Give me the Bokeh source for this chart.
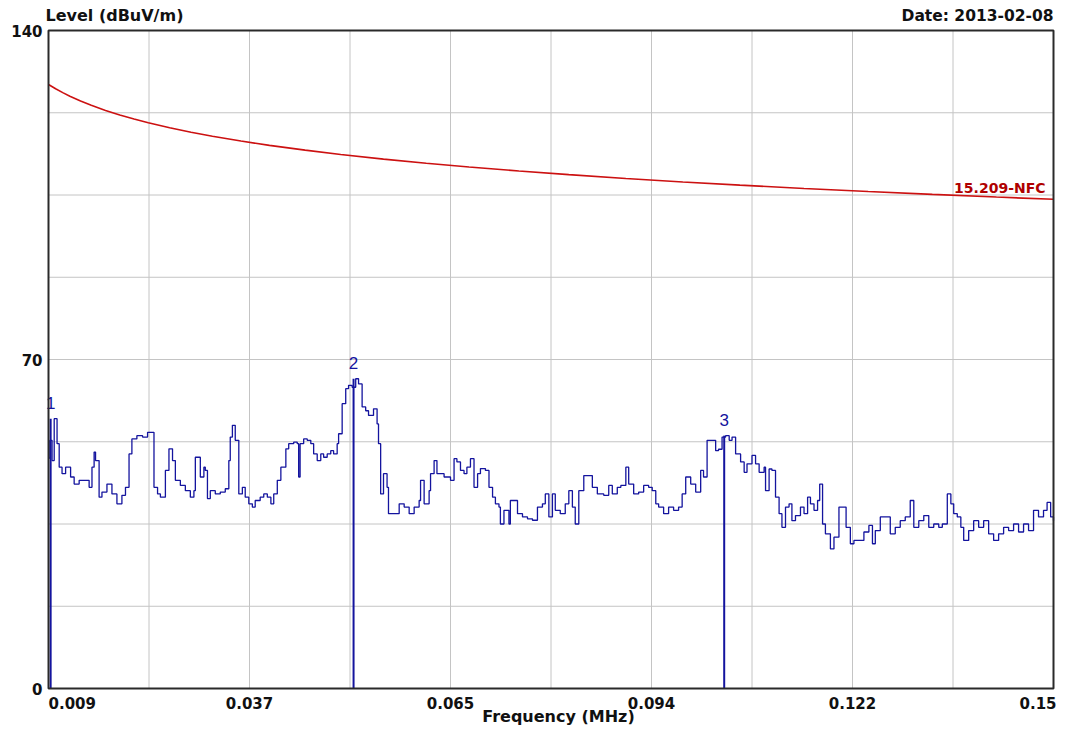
from bokeh.plotting import figure
from bokeh.models import Range1d, ColumnDataSource
from bokeh.core.properties import value
from bokeh.embed import file_html
from bokeh.resources import INLINE

# ---------------- data ----------------
limit_freq_mhz = [0.009, 0.010, 0.011, 0.012, 0.0135, 0.015, 0.017, 0.019, 0.021, 0.023,
                  0.026, 0.029, 0.032, 0.036, 0.040, 0.045, 0.050, 0.056, 0.062, 0.068,
                  0.075, 0.082, 0.090, 0.098, 0.106, 0.115, 0.124, 0.133, 0.142, 0.150]
limit_level = [128.52, 127.60, 126.78, 126.02, 125.00, 124.08, 122.99, 122.03, 121.16, 120.37,
               119.30, 118.36, 117.50, 116.48, 115.56, 114.54, 113.62, 112.64, 111.76, 110.95,
               110.10, 109.33, 108.52, 107.78, 107.10, 106.39, 105.74, 105.13, 104.56, 104.08]
limit_name = "15.209-NFC"

trace_freq_mhz = [
    0.0090, 0.0092, 0.0095, 0.0098, 0.0102, 0.0105, 0.0109, 0.0114, 0.0121, 0.0126,
    0.0133, 0.0140, 0.0147, 0.0151, 0.0154, 0.0156, 0.0161, 0.0165, 0.0172, 0.0179,
    0.0186, 0.0193, 0.0198, 0.0203, 0.0207, 0.0214, 0.0222, 0.0229, 0.0233, 0.0238,
    0.0243, 0.0247, 0.0254, 0.0259, 0.0264, 0.0268, 0.0275, 0.0282, 0.0289, 0.0294,
    0.0296, 0.0301, 0.0303, 0.0308, 0.0310, 0.0313, 0.0317, 0.0324, 0.0331, 0.0338,
    0.0343, 0.0345, 0.0348, 0.0352, 0.0357, 0.0362, 0.0366, 0.0371, 0.0376, 0.0380,
    0.0387, 0.0392, 0.0397, 0.0402, 0.0406, 0.0411, 0.0416, 0.0423, 0.0427, 0.0434,
    0.0439, 0.0441, 0.0443, 0.0448, 0.0453, 0.0458, 0.0462, 0.0467, 0.0472, 0.0476,
    0.0481, 0.0486, 0.0490, 0.0495, 0.0497, 0.0502, 0.0507, 0.0511, 0.0516, 0.0521,
    0.0525, 0.0530, 0.0535, 0.0539, 0.0546, 0.0551, 0.0553, 0.0556, 0.0560, 0.0565,
    0.0567, 0.0575, 0.0582, 0.0589, 0.0596, 0.0603, 0.0610, 0.0612, 0.0617, 0.0624,
    0.0626, 0.0631, 0.0635, 0.0645, 0.0654, 0.0659, 0.0663, 0.0668, 0.0673, 0.0677,
    0.0682, 0.0687, 0.0692, 0.0696, 0.0703, 0.0708, 0.0713, 0.0717, 0.0722, 0.0724,
    0.0729, 0.0736, 0.0738, 0.0743, 0.0748, 0.0755, 0.0762, 0.0769, 0.0776, 0.0783,
    0.0787, 0.0792, 0.0797, 0.0801, 0.0808, 0.0815, 0.0820, 0.0825, 0.0829, 0.0834,
    0.0841, 0.0848, 0.0853, 0.0860, 0.0869, 0.0876, 0.0881, 0.0888, 0.0893, 0.0900,
    0.0904, 0.0911, 0.0918, 0.0925, 0.0932, 0.0937, 0.0942, 0.0946, 0.0953, 0.0960,
    0.0967, 0.0974, 0.0979, 0.0984, 0.0991, 0.0998, 0.1005, 0.1009, 0.1014, 0.1021,
    0.1026, 0.1030, 0.1035, 0.1040, 0.1045, 0.1049, 0.1054, 0.1061, 0.1066, 0.1070,
    0.1077, 0.1082, 0.1087, 0.1094, 0.1096, 0.1101, 0.1105, 0.1110, 0.1115, 0.1119,
    0.1124, 0.1129, 0.1133, 0.1138, 0.1145, 0.1150, 0.1155, 0.1159, 0.1164, 0.1169,
    0.1172, 0.1176, 0.1180, 0.1187, 0.1192, 0.1199, 0.1205, 0.1209, 0.1215, 0.1220,
    0.1227, 0.1234, 0.1241, 0.1246, 0.1250, 0.1257, 0.1264, 0.1271, 0.1278, 0.1285,
    0.1292, 0.1299, 0.1304, 0.1311, 0.1318, 0.1325, 0.1332, 0.1339, 0.1344, 0.1351,
    0.1356, 0.1360, 0.1365, 0.1370, 0.1374, 0.1381, 0.1388, 0.1395, 0.1402, 0.1409,
    0.1416, 0.1423, 0.1430, 0.1437, 0.1444, 0.1451, 0.1458, 0.1465, 0.1472, 0.1479,
    0.1486, 0.1491, 0.1496, 0.1500]
trace_level = [
    49.0, 52.8, 48.5, 57.4, 52.1, 47.1, 45.7, 47.1, 45.0, 43.5,
    44.3, 44.3, 42.8, 47.1, 50.3, 48.5, 40.7, 41.8, 43.5, 41.4,
    39.3, 41.1, 42.8, 49.9, 53.1, 53.8, 53.5, 54.5, 54.5, 42.8,
    41.4, 40.7, 46.4, 51.0, 48.5, 44.3, 43.2, 42.1, 40.7, 42.1,
    49.2, 49.2, 45.0, 47.1, 46.4, 40.4, 42.1, 41.4, 41.8, 42.5,
    48.5, 53.5, 56.0, 52.8, 41.4, 42.8, 40.7, 39.3, 38.6, 40.0,
    40.7, 41.4, 40.7, 39.3, 41.4, 44.3, 47.1, 51.0, 52.1, 52.4,
    52.1, 45.0, 52.1, 53.1, 52.8, 52.1, 49.9, 48.5, 49.9, 49.2,
    49.9, 50.6, 49.9, 52.1, 54.2, 60.6, 63.8, 64.5, 64.1, 65.9,
    64.8, 59.9, 59.1, 58.1, 59.5, 56.3, 52.1, 41.4, 45.7, 42.8,
    37.2, 37.2, 39.3, 38.6, 37.2, 38.6, 40.0, 44.3, 39.3, 42.1,
    45.7, 48.5, 45.7, 45.0, 44.3, 48.9, 48.2, 46.4, 45.7, 47.1,
    48.9, 42.8, 45.7, 46.8, 46.4, 42.8, 40.7, 39.3, 38.6, 35.0,
    37.9, 35.0, 40.0, 40.0, 37.2, 36.5, 36.1, 35.8, 38.6, 39.3,
    41.4, 36.5, 41.4, 37.9, 37.2, 39.3, 42.1, 38.6, 35.0, 42.1,
    45.3, 45.3, 42.8, 41.4, 41.1, 43.2, 41.4, 42.8, 43.2, 47.1,
    43.5, 41.4, 41.8, 43.2, 42.8, 42.1, 39.3, 38.6, 37.2, 38.6,
    37.9, 38.6, 41.4, 45.0, 43.5, 41.8, 46.4, 45.0, 52.8, 52.8,
    50.6, 50.9, 53.5, 53.8, 52.8, 53.5, 49.9, 48.2, 46.0, 47.8,
    49.6, 47.8, 46.0, 47.1, 42.1, 46.7, 46.4, 40.7, 37.2, 34.3,
    38.6, 39.3, 35.7, 36.8, 38.6, 37.2, 40.7, 39.3, 37.9, 40.0,
    43.5, 35.0, 32.9, 29.7, 32.2, 38.6, 38.6, 34.3, 30.8, 31.5,
    31.5, 33.3, 34.7, 30.8, 33.6, 36.5, 36.5, 32.9, 34.3, 35.7,
    36.5, 40.0, 34.3, 35.7, 36.8, 34.3, 35.0, 34.3, 35.0, 41.4,
    39.3, 37.2, 36.5, 34.3, 31.5, 33.6, 35.7, 34.3, 35.7, 32.9,
    31.5, 32.9, 34.3, 33.6, 35.0, 33.3, 35.0, 33.6, 37.9, 36.5,
    37.9, 39.6, 36.5, 35.7]

marker_freq_mhz = [0.0093, 0.0518, 0.1038]
marker_level = [57.4, 65.9, 53.8]
marker_text = ["1", "2", "3"]

x_grid_ticks = [0.009, 0.0231, 0.0372, 0.0513, 0.0654, 0.0795, 0.0936, 0.1077, 0.1218, 0.1359, 0.15]
y_grid_ticks = [0, 17.5, 35, 52.5, 70, 87.5, 105, 122.5, 140]
x_tick_vals = [0.009, 0.0372, 0.0654, 0.0936, 0.1218, 0.15]
x_tick_text = ["0.009", "0.037", "0.065", "0.094", "0.122", "0.15"]
y_tick_vals = [140, 70, 0]
y_tick_text = ["140", "70", "0"]

y_title = "Level (dBuV/m)"
x_title = "Frequency (MHz)"
date_text = "Date: 2013-02-08"

# ---------------- layout constants ----------------
W, H = 1057, 728                 # canvas
BOX_L, BOX_R, BOX_T, BOX_B = 48, 1053, 30, 688   # chart box in canvas pixels
X0, X1 = 0.009, 0.15
Y0, Y1 = 0, 140
px_x = (X1 - X0) / (BOX_R - BOX_L)
px_y = (Y1 - Y0) / (BOX_B - BOX_T)

p = figure(frame_width=W, frame_height=H,
           min_border_left=0, min_border_right=0, min_border_top=0, min_border_bottom=0,
           x_range=Range1d(X0 - BOX_L * px_x, X1 + (W - BOX_R) * px_x),
           y_range=Range1d(Y0 - (H - BOX_B) * px_y, Y1 + BOX_T * px_y),
           x_axis_location=None, y_axis_location=None,
           toolbar_location=None, output_backend="svg")
p.grid.visible = False
p.background_fill_color = "white"
p.border_fill_color = "white"
p.outline_line_color = None

GRID = "#c4c4c4"
RED = "#cc1111"
BLUE = "#14149e"
INK = "#111111"
BOLD_FONT = value("DejaVu Sans")

# grid lines (inside the chart box)
p.segment(x0=x_grid_ticks, y0=[Y0] * len(x_grid_ticks), x1=x_grid_ticks, y1=[Y1] * len(x_grid_ticks),
          line_color=GRID, line_width=1)
p.segment(x0=[X0] * len(y_grid_ticks), y0=y_grid_ticks, x1=[X1] * len(y_grid_ticks), y1=y_grid_ticks,
          line_color=GRID, line_width=1)

# limit line
p.line(limit_freq_mhz, limit_level, line_color=RED, line_width=1.6)
p.text(x=[X1], y=[limit_level[-1]], text=[limit_name], x_offset=-8, y_offset=-11,
       text_align="right", text_baseline="alphabetic", text_font=BOLD_FONT,
       text_font_style="bold", text_font_size="14px", text_color="#b00000")

# trace
p.step(trace_freq_mhz, trace_level, mode="after", line_color=BLUE, line_width=1.3)

# markers
msrc = ColumnDataSource(dict(x=marker_freq_mhz, y=marker_level, t=marker_text,
                             y0=[Y0] * len(marker_level)))
p.segment(x0="x", y0="y0", x1="x", y1="y", source=msrc, line_color=BLUE, line_width=2)
p.text(x="x", y="y", text="t", source=msrc, text_align="center", text_baseline="bottom",
       y_offset=-10, text_font=value("Liberation Sans"), text_font_size="17px",
       text_color=BLUE)

# chart box
p.quad(left=[X0], right=[X1], bottom=[Y0], top=[Y1], fill_color=None,
       line_color="#2a2a2a", line_width=2)

# x tick labels
tick_style = dict(text_baseline="alphabetic", text_font=BOLD_FONT, text_font_style="bold",
                  text_font_size="15px", text_color=INK)
p.text(x=x_tick_vals[:1], y=[Y0], text=x_tick_text[:1], y_offset=14, text_align="left", **tick_style)
p.text(x=x_tick_vals[1:-1], y=[Y0] * (len(x_tick_vals) - 2), text=x_tick_text[1:-1], y_offset=14,
       text_align="center", **tick_style)
p.text(x=x_tick_vals[-1:], y=[Y0], text=x_tick_text[-1:], y_offset=14, x_offset=3,
       text_align="right", **tick_style)

# y tick labels
p.text(x=[X0] * len(y_tick_vals), y=y_tick_vals, text=y_tick_text, x_offset=-6,
       text_align="right", text_baseline="middle", text_font=BOLD_FONT,
       text_font_style="bold", text_font_size="15px", text_color=INK)

# titles
p.text(x=[X0], y=[Y1], text=[y_title], x_offset=-3, y_offset=-15, text_align="left",
       text_baseline="alphabetic", text_font=BOLD_FONT, text_font_style="bold",
       text_font_size="16px", text_color=INK)
p.text(x=[X1], y=[Y1], text=[date_text], y_offset=-14.5, text_align="right",
       text_baseline="alphabetic", text_font=BOLD_FONT, text_font_style="bold",
       text_font_size="15.5px", text_color=INK)
p.text(x=[X0 + 510 * px_x], y=[Y0], text=[x_title], y_offset=28, text_align="center",
       text_baseline="alphabetic", text_font=BOLD_FONT, text_font_style="bold",
       text_font_size="16px", text_color=INK)

open("out.html", "w").write(file_html(p, INLINE))
